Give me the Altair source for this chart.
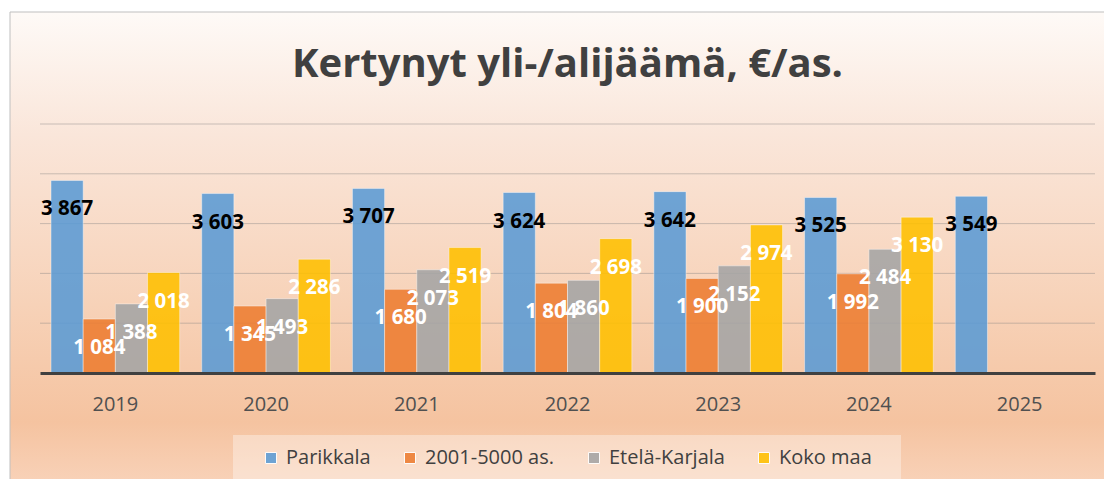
import altair as alt
import pandas as pd

# ---- data ----
years = ["2019", "2020", "2021", "2022", "2023", "2024", "2025"]
series = ["Parikkala", "2001-5000 as.", "Etelä-Karjala", "Koko maa"]
parikkala = [3867, 3603, 3707, 3624, 3642, 3525, 3549]
kunnat_2001_5000 = [1084, 1345, 1680, 1804, 1900, 1992, None]
etela_karjala = [1388, 1493, 2073, 1860, 2152, 2484, None]
koko_maa = [2018, 2286, 2519, 2698, 2974, 3130, None]
grid_values = [1000, 2000, 3000, 4000, 5000]
title_text = "Kertynyt yli-/alijäämä, €/as."

colors = ["#5b9bd5", "#ed7d31", "#a5a5a5", "#ffc000"]

rows = []
for s, vals in zip(series, [parikkala, kunnat_2001_5000, etela_karjala, koko_maa]):
    for y, v in zip(years, vals):
        if v is None:
            continue
        rows.append({"year": y, "series": s, "value": v,
                     "label": f"{v:,}".replace(",", " ")})
df = pd.DataFrame(rows)

W, H = 1055, 249
FONT = "Open Sans"

x_enc = alt.X(
    "year:N", sort=years,
    scale=alt.Scale(paddingInner=0.146, paddingOuter=0.073),
    axis=alt.Axis(title=None, labelAngle=0, labelFont=FONT, labelFontSize=20,
                  labelColor="#505050", ticks=False, tickSize=0, labelPadding=37,
                  labelBaseline="alphabetic", domainColor="#404040",
                  domainWidth=3, zindex=1, grid=False),
)
xoff_enc = alt.XOffset("series:N", sort=series,
                       scale=alt.Scale(domain=series, paddingInner=0, paddingOuter=0))
y_enc = alt.Y("value:Q", scale=alt.Scale(domain=[0, 5000], nice=False), axis=None)

one = pd.DataFrame({"k": [0]})

gradient = alt.LinearGradient(
    gradient="linear",
    stops=[
        alt.GradientStop(color="#fefaf7", offset=0.0),
        alt.GradientStop(color="#fae6da", offset=0.25),
        alt.GradientStop(color="#f7d2b8", offset=0.6),
        alt.GradientStop(color="#f5c3a0", offset=0.84),
        alt.GradientStop(color="#f9d6bf", offset=1.0),
    ],
    x1=0, x2=0, y1=0, y2=1,
)

background = alt.Chart(one).mark_rect(fill=gradient).encode(
    x=alt.value(-30), x2=alt.value(1100), y=alt.value(-112), y2=alt.value(376))

frame_left = alt.Chart(one).mark_rule(color="#bfbfbf", strokeWidth=1).encode(
    x=alt.value(-30), y=alt.value(-112), y2=alt.value(380))
frame_top = alt.Chart(one).mark_rule(color="#bfbfbf", strokeWidth=1).encode(
    x=alt.value(-30), x2=alt.value(1100), y=alt.value(-112))

legend_box = alt.Chart(one).mark_rect(
    fill="#ffffff", fillOpacity=0.35
).encode(x=alt.value(193), x2=alt.value(861), y=alt.value(311), y2=alt.value(357))

grid = alt.Chart(pd.DataFrame({"g": grid_values})).mark_rule(
    color="#7f7f7f", opacity=0.4, strokeWidth=1
).encode(y=alt.Y("g:Q", scale=alt.Scale(domain=[0, 5000], nice=False), axis=None))

bars = alt.Chart(df).mark_bar(
    opacity=0.88, stroke="#ffffff", strokeOpacity=0.45, strokeWidth=1
).encode(
    x=x_enc, xOffset=xoff_enc, y=y_enc,
    color=alt.Color(
        "series:N", sort=series,
        scale=alt.Scale(domain=series, range=colors),
        legend=alt.Legend(
            title=None, orient="none", legendX=221, legendY=324,
            direction="horizontal", columns=4, symbolType="square",
            symbolSize=121, symbolOpacity=0.88, symbolStrokeColor="#ffffff",
            symbolStrokeWidth=1, labelFont=FONT, labelFontSize=20,
            labelColor="#404040", labelOffset=5, columnPadding=29, padding=0,
            zindex=1,
        ),
    ),
)

labels = alt.Chart(df).mark_text(
    font=FONT, fontWeight="bold", fontSize=20.5, baseline="alphabetic",
    align="center", dy=35,
).encode(
    x=x_enc, xOffset=xoff_enc, y=y_enc, text="label:N",
    color=alt.condition(alt.datum.series == series[0],
                        alt.value("#000000"), alt.value("#ffffff")),
)

title = alt.Chart(pd.DataFrame({"t": [title_text]})).mark_text(
    font=FONT, fontWeight="bold", fontSize=40, color="#404040",
    baseline="alphabetic", align="center",
).encode(text="t:N", x=alt.value(W / 2), y=alt.value(-47))

chart = alt.layer(background, frame_left, frame_top, legend_box, grid, bars,
                  labels, title).properties(
    width=W, height=H,
    autosize=alt.AutoSizeParams(type="none"),
    padding={"left": 32, "top": 116, "right": 9, "bottom": 106},
).configure(background="#ffffff").configure_view(stroke=None)

chart.save("out.html", embed_options={"renderer": "svg", "actions": False})
